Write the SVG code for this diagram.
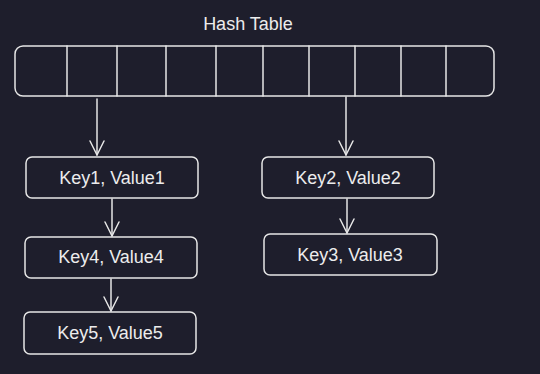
<svg xmlns="http://www.w3.org/2000/svg" width="540" height="374" viewBox="0 0 540 374">
<style>
.bg{fill:#1e1e2c}
.box{fill:none;stroke:#e6e6e6;stroke-width:1.5}
.ln{fill:none;stroke:#e6e6e6;stroke-width:1.5;stroke-linecap:round}
.t{font-family:"Liberation Sans","DejaVu Sans",sans-serif;font-size:18px;fill:#ececec;text-anchor:middle;dominant-baseline:central}
</style>
<defs>
<marker id="ah" viewBox="0 0 20 20" refX="18" refY="10" markerWidth="20" markerHeight="20" markerUnits="userSpaceOnUse" orient="auto">
<path d="M4,3 L18,10 L4,17" fill="none" stroke="#e6e6e6" stroke-width="1.5" stroke-linecap="round" stroke-linejoin="round"/>
</marker>
</defs>
<rect class="bg" width="540" height="374"/>
<g id="title"><text class="t" x="248" y="24">Hash Table</text></g>
<g id="table">
<rect class="box" x="15" y="46" width="479" height="50" rx="8"/>
<path class="ln" d="M67,46V96M117,46V96M166,46V96M216,46V96M263,46V96M309,46V96M355,46V96M401,46V96M446,46V96"/>
</g>
<g id="n1"><rect class="box" x="26" y="157" width="172" height="41" rx="6"/><text class="t" x="112" y="178">Key1, Value1</text></g>
<g id="n4"><rect class="box" x="25" y="237" width="172" height="41" rx="6"/><text class="t" x="111" y="257">Key4, Value4</text></g>
<g id="n5"><rect class="box" x="24" y="312" width="172" height="42" rx="6"/><text class="t" x="110" y="333">Key5, Value5</text></g>
<g id="n2"><rect class="box" x="262" y="157" width="172" height="41" rx="6"/><text class="t" x="348" y="178">Key2, Value2</text></g>
<g id="n3"><rect class="box" x="264" y="234" width="173" height="41" rx="6"/><text class="t" x="350" y="255">Key3, Value3</text></g>
<g id="connectors">
<path class="ln" d="M97,99V155" marker-end="url(#ah)"/>
<path class="ln" d="M346,97V155" marker-end="url(#ah)"/>
<path class="ln" d="M112,199V236" marker-end="url(#ah)"/>
<path class="ln" d="M111,279V311" marker-end="url(#ah)"/>
<path class="ln" d="M347,199V233" marker-end="url(#ah)"/>
</g>
</svg>
